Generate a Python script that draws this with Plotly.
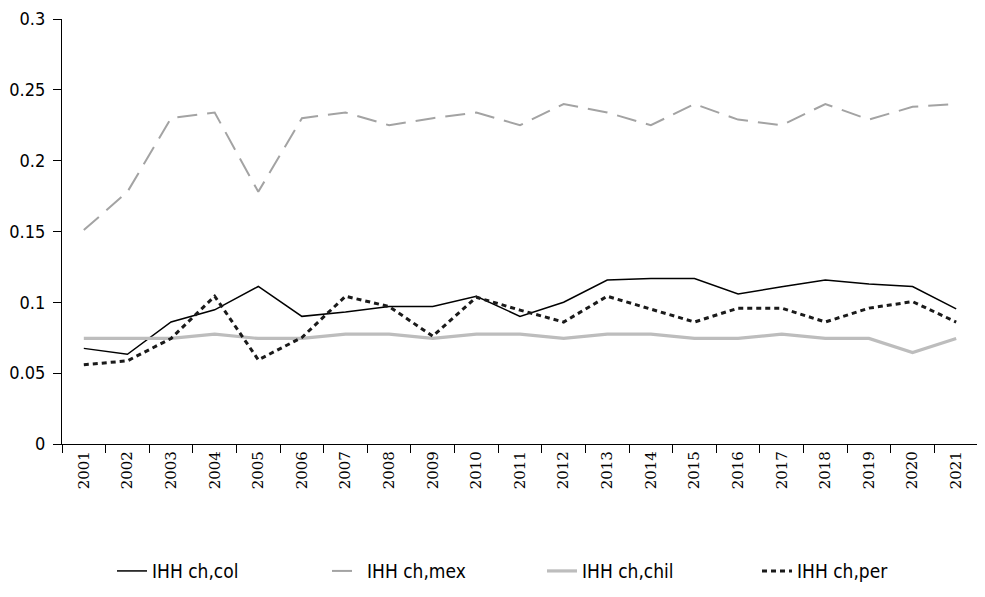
import plotly.graph_objects as go

years = [str(y) for y in range(2001, 2022)]

ihh_col = [0.0675, 0.0633, 0.0861, 0.0947, 0.1112, 0.0901, 0.0931, 0.0971, 0.0971, 0.1043,
           0.0901, 0.1001, 0.1157, 0.1168, 0.1168, 0.1059, 0.1110, 0.1157, 0.1129, 0.1112, 0.0954]
ihh_mex = [0.151, 0.178, 0.230, 0.234, 0.178, 0.230, 0.234, 0.225, 0.230, 0.234,
           0.225, 0.240, 0.234, 0.225, 0.240, 0.229, 0.225, 0.240, 0.229, 0.238, 0.240]
ihh_chil = [0.0745, 0.0745, 0.0745, 0.0775, 0.0745, 0.0745, 0.0775, 0.0775, 0.0745, 0.0775,
            0.0775, 0.0745, 0.0775, 0.0775, 0.0745, 0.0745, 0.0775, 0.0745, 0.0745, 0.0645, 0.0745]
ihh_per = [0.0559, 0.0587, 0.0745, 0.1043, 0.0594, 0.0752, 0.1043, 0.0970, 0.0761, 0.1036,
           0.0945, 0.0861, 0.1043, 0.0954, 0.0861, 0.0959, 0.0959, 0.0861, 0.0959, 0.1005, 0.0861]

names = ["IHH ch,col", "IHH ch,mex", "IHH ch,chil", "IHH ch,per"]
ytick_vals = [0, 0.05, 0.1, 0.15, 0.2, 0.25, 0.3]
ytick_text = ["0", "0.05", "0.1", "0.15", "0.2", "0.25", "0.3"]

NARROW = "DejaVu Sans Condensed, Liberation Sans Narrow, Roboto, sans-serif"

fig = go.Figure()
fig.add_trace(go.Scatter(x=years, y=ihh_col, name=names[0], mode="lines",
                         line=dict(color="#000000", width=1.5)))
fig.add_trace(go.Scatter(x=years, y=ihh_mex, name=names[1], mode="lines",
                         line=dict(color="#a3a3a3", width=2, dash="20px,10px")))
fig.add_trace(go.Scatter(x=years, y=ihh_chil, name=names[2], mode="lines",
                         line=dict(color="#bdbdbd", width=3.2)))
fig.add_trace(go.Scatter(x=years, y=ihh_per, name=names[3], mode="lines",
                         line=dict(color="#1a1a1a", width=3, dash="5px,4px")))

# the page body keeps its default 8px margin; figure is sized/offset to compensate
fig.update_layout(
    width=977, height=589,
    margin=dict(l=54, r=7, t=11, b=144),
    paper_bgcolor="white", plot_bgcolor="white",
    font=dict(family=NARROW, color="black"),
    showlegend=True,
    legend=dict(orientation="h", x=50 / 916, xanchor="left", y=-0.299, yanchor="middle",
                font=dict(family=NARROW, size=19, color="black"),
                entrywidth=170, entrywidthmode="pixels",
                bgcolor="rgba(0,0,0,0)"),
    xaxis=dict(type="category", showline=True, linecolor="black", linewidth=1.3,
               ticks="outside", ticklen=8, tickcolor="black", tickwidth=1.3,
               tickson="boundaries", tickangle=-90, showgrid=False, zeroline=False,
               tickfont=dict(family="DejaVu Serif", size=15, color="black"),
               range=[-0.5, 20.5], automargin=False),
    yaxis=dict(range=[0, 0.3], tickvals=ytick_vals, ticktext=ytick_text,
               showline=True, linecolor="black", linewidth=1.3,
               ticks="outside", ticklen=8, tickcolor="black", tickwidth=1.3,
               showgrid=False, zeroline=False, ticklabelstandoff=4,
               ticklabeloverflow="allow",
               tickfont=dict(family=NARROW, size=18, color="black"),
               automargin=False),
)

fig.write_html("out.html", config={"displayModeBar": False})
